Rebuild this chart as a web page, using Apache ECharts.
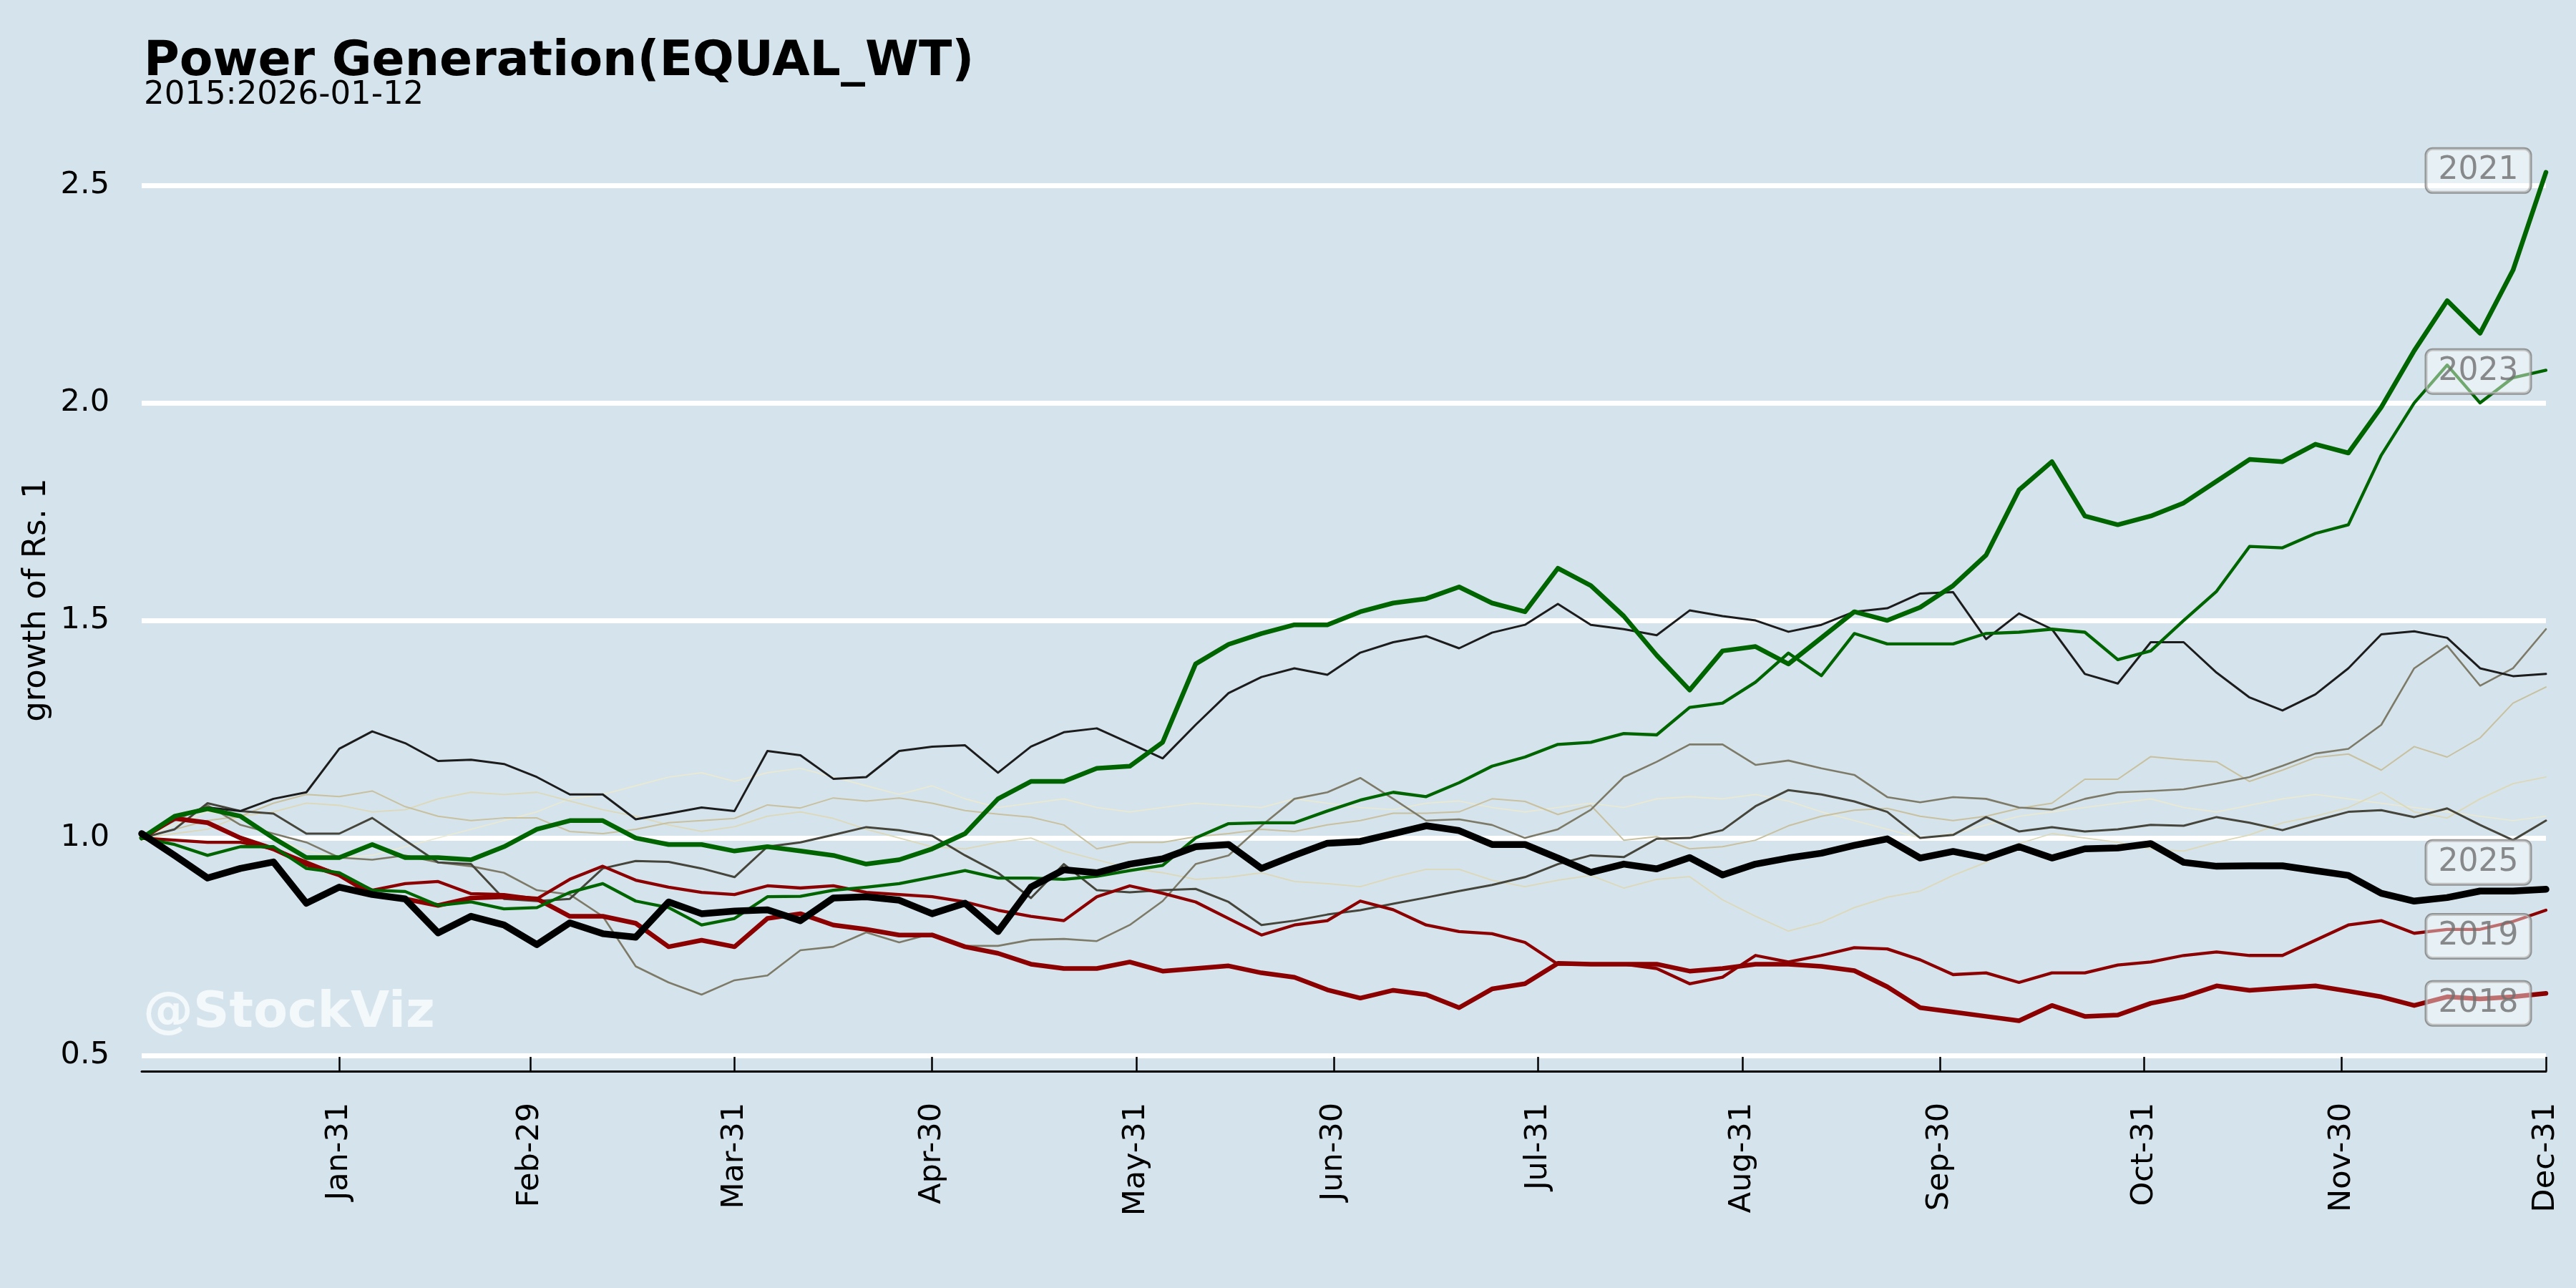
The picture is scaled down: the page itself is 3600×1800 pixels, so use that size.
<!DOCTYPE html>
<html><head><meta charset="utf-8">
<script src="https://cdn.jsdelivr.net/npm/echarts@6/dist/echarts.min.js"></script>
<style>html,body{margin:0;padding:0;background:#d5e4ec}#c{width:3600px;height:1800px}</style>
</head><body><div id="c"></div>
<script>
// day-of-year sample points
const days = [1,6,11,16,21,26,31,36,41,46,51,56,61,66,71,76,81,86,91,96,101,106,111,116,121,126,131,136,141,146,151,156,161,166,171,176,181,186,191,196,201,206,211,216,221,226,231,236,241,246,251,256,261,266,271,276,281,286,291,296,301,306,311,316,321,326,331,336,341,346,351,356,361,366];
const monthEndDays = [31,60,91,121,152,182,213,244,274,305,335,366];
const monthLabels = ['Jan-31','Feb-29','Mar-31','Apr-30','May-31','Jun-30','Jul-31','Aug-31','Sep-30','Oct-31','Nov-30','Dec-31'];
const yTicks = [0.5,1.0,1.5,2.0,2.5];

const y2021 = [1.00,1.05,1.067,1.05,1.00,0.955,0.955,0.985,0.955,0.955, 0.95,0.98,1.02,1.04,1.04,1.00,0.985,0.985,0.97,0.98, 0.97,0.96,0.94,0.95,0.975,1.01,1.09,1.13,1.13,1.16, 1.165,1.22,1.40,1.445,1.47,1.49,1.49,1.52,1.54,1.55, 1.577,1.54,1.52,1.62,1.58,1.51,1.42,1.34,1.43,1.44, 1.40,1.46,1.52,1.50,1.53,1.58,1.65,1.80,1.865,1.74, 1.72,1.74,1.77,1.82,1.87,1.865,1.905,1.885,1.99,2.12, 2.235,2.16,2.305,2.53];
const y2023 = [1.00,0.985,0.96,0.98,0.98,0.93,0.92,0.88,0.877,0.845, 0.853,0.837,0.84,0.875,0.895,0.855,0.84,0.80,0.815,0.865, 0.866,0.88,0.887,0.895,0.91,0.925,0.908,0.908,0.905,0.912, 0.925,0.937,1.0,1.033,1.035,1.035,1.062,1.087,1.105,1.095, 1.127,1.165,1.186,1.215,1.22,1.24,1.237,1.30,1.31,1.358, 1.425,1.373,1.47,1.446,1.446,1.446,1.47,1.473,1.48,1.473, 1.41,1.43,1.50,1.567,1.67,1.667,1.70,1.72,1.88,2.0, 2.087,2.0,2.058,2.075];
const y2025 = [1.01,0.96,0.908,0.93,0.945,0.85,0.887,0.87,0.86,0.782, 0.82,0.80,0.755,0.805,0.78,0.772,0.853,0.826,0.832,0.835, 0.81,0.862,0.865,0.857,0.826,0.85,0.785,0.887,0.927,0.92, 0.94,0.952,0.98,0.985,0.93,0.96,0.988,0.992,1.01,1.028, 1.017,0.985,0.985,0.954,0.921,0.94,0.929,0.955,0.915,0.94, 0.954,0.965,0.983,0.998,0.954,0.969,0.954,0.98,0.954,0.975, 0.977,0.987,0.944,0.935,0.936,0.936,0.925,0.914,0.873,0.855, 0.863,0.878,0.878,0.882];
const y2018 = [1.0,1.045,1.035,1.0,0.975,0.94,0.915,0.87,0.86,0.845, 0.862,0.865,0.86,0.82,0.82,0.804,0.75,0.765,0.75,0.815, 0.826,0.80,0.79,0.777,0.777,0.75,0.735,0.71,0.70,0.70, 0.715,0.694,0.70,0.706,0.69,0.68,0.651,0.632,0.65,0.64, 0.61,0.653,0.665,0.712,0.71,0.71,0.71,0.694,0.70,0.71, 0.71,0.705,0.695,0.658,0.61,0.60,0.59,0.58,0.615,0.59, 0.593,0.62,0.635,0.66,0.65,0.655,0.66,0.648,0.635,0.615, 0.635,0.63,0.635,0.643];
const y2019 = [1.0,0.995,0.99,0.99,0.975,0.945,0.915,0.88,0.895,0.90, 0.872,0.87,0.86,0.905,0.935,0.903,0.887,0.875,0.87,0.89, 0.885,0.89,0.875,0.87,0.865,0.853,0.834,0.82,0.81,0.865, 0.89,0.873,0.853,0.815,0.777,0.80,0.81,0.855,0.835,0.80, 0.785,0.78,0.76,0.71,0.71,0.71,0.70,0.665,0.68,0.73, 0.715,0.73,0.748,0.745,0.72,0.686,0.69,0.668,0.69,0.69, 0.708,0.715,0.73,0.738,0.73,0.73,0.765,0.80,0.81,0.781, 0.79,0.79,0.808,0.834];
const y2024 = [1.0,1.05,1.07,1.062,1.09,1.105,1.205,1.245,1.218,1.177, 1.18,1.17,1.14,1.10,1.10,1.043,1.056,1.07,1.062,1.20, 1.19,1.136,1.14,1.20,1.21,1.213,1.15,1.21,1.243,1.252, 1.218,1.183,1.26,1.333,1.37,1.39,1.375,1.426,1.45,1.464, 1.436,1.472,1.49,1.538,1.49,1.48,1.466,1.523,1.51,1.50, 1.474,1.49,1.52,1.528,1.562,1.565,1.457,1.516,1.48,1.377, 1.355,1.45,1.45,1.38,1.323,1.293,1.33,1.39,1.468,1.475, 1.46,1.39,1.372,1.377];
const y2022 = [1.0,1.02,1.08,1.062,1.056,1.01,1.01,1.046,0.995,0.944, 0.94,0.86,0.855,0.86,0.93,0.947,0.945,0.93,0.91,0.98, 0.99,1.007,1.025,1.018,1.005,0.96,0.92,0.862,0.94,0.88, 0.875,0.88,0.883,0.853,0.80,0.81,0.824,0.834,0.849,0.863, 0.878,0.892,0.91,0.94,0.96,0.956,0.998,1.0,1.018,1.073, 1.11,1.10,1.084,1.06,1.0,1.007,1.048,1.015,1.025,1.015, 1.02,1.03,1.028,1.048,1.035,1.018,1.04,1.06,1.064,1.048, 1.068,1.03,0.995,1.04];
const y2020 = [1.0,1.04,1.075,1.03,1.01,0.99,0.955,0.95,0.96,0.944, 0.935,0.92,0.88,0.87,0.82,0.705,0.668,0.64,0.673,0.684, 0.742,0.75,0.783,0.76,0.78,0.752,0.752,0.766,0.768,0.763, 0.80,0.855,0.94,0.96,1.028,1.09,1.105,1.138,1.09,1.04, 1.043,1.03,1.0,1.02,1.065,1.14,1.175,1.215,1.215,1.168, 1.178,1.16,1.145,1.094,1.082,1.094,1.09,1.07,1.065,1.09, 1.105,1.108,1.112,1.125,1.14,1.166,1.194,1.205,1.26,1.39, 1.442,1.35,1.39,1.48];
const y2017 = [1.0,1.02,1.04,1.05,1.08,1.10,1.095,1.108,1.072,1.05, 1.04,1.046,1.046,1.015,1.01,1.02,1.035,1.04,1.045,1.076, 1.069,1.092,1.085,1.092,1.08,1.063,1.055,1.048,1.03,0.975, 0.99,0.99,1.003,1.01,1.02,1.015,1.03,1.04,1.057,1.057, 1.06,1.09,1.084,1.054,1.075,0.995,1.003,0.975,0.98,0.995, 1.028,1.05,1.064,1.068,1.05,1.04,1.05,1.068,1.08,1.135, 1.135,1.187,1.18,1.175,1.13,1.156,1.185,1.193,1.156,1.21, 1.186,1.23,1.31,1.347];
const y2016 = [1.0,1.01,1.02,1.05,1.06,1.08,1.075,1.06,1.065,1.09, 1.105,1.10,1.105,1.085,1.065,1.05,1.03,1.015,1.026,1.05, 1.06,1.045,1.02,1.0,0.98,0.975,0.99,1.0,0.97,0.95, 0.93,0.92,0.905,0.91,0.92,0.90,0.895,0.888,0.91,0.928, 0.928,0.903,0.888,0.903,0.914,0.885,0.905,0.911,0.858,0.82, 0.786,0.806,0.84,0.864,0.878,0.914,0.944,0.987,1.01,1.0, 0.99,0.975,0.97,0.99,1.007,1.035,1.05,1.07,1.105,1.06, 1.046,1.09,1.125,1.14];
const y2015 = [1.0,1.03,1.06,1.05,1.0,0.97,0.955,0.96,0.98,1.0, 1.02,1.04,1.06,1.09,1.1,1.12,1.14,1.15,1.13,1.15, 1.16,1.14,1.12,1.1,1.12,1.09,1.07,1.08,1.09,1.07, 1.06,1.07,1.08,1.075,1.07,1.09,1.08,1.07,1.065,1.08, 1.085,1.07,1.06,1.07,1.08,1.07,1.09,1.095,1.09,1.1, 1.085,1.06,1.04,1.02,1.0,1.01,1.03,1.05,1.06,1.07, 1.08,1.09,1.07,1.06,1.075,1.09,1.1,1.09,1.08,1.07, 1.06,1.05,1.04,1.05];

const labelYears = ['2021','2023','2025','2019','2018'];
const labelValues = [2.534, 2.072, 0.944, 0.774, 0.62];

const FONT = 'DejaVu Sans';
function mk(name, vals, color, width) {
  return {type:'line', name, data: days.map((d,i)=>[d, vals[i]]), showSymbol:false, symbol:'none',
    lineStyle:{color, width, join:'round', cap:'round'}, silent:true, z:3};
}
const series = [
  mk('2015', y2015, '#ebe9d0', 1.6),
  mk('2016', y2016, '#dcd8b8', 1.8),
  mk('2017', y2017, '#c8c09e', 2),
  mk('2020', y2020, '#7d7a68', 2.6),
  mk('2022', y2022, '#46453b', 3),
  mk('2024', y2024, '#1c1c1c', 3),
  mk('2018', y2018, '#8b0000', 6.5),
  mk('2019', y2019, '#8b0000', 4.3),
  mk('2023', y2023, '#006400', 4.3),
  mk('2021', y2021, '#006400', 6.5),
  mk('2025', y2025, '#000000', 9.5),
  {type:'scatter', data: labelYears.map((y,i)=>[366, labelValues[i], y]), symbolSize:1,
   itemStyle:{color:'rgba(0,0,0,0)'}, z:10, silent:true,
   label:{show:true, position:'left', distance:21, formatter:p=>p.data[2], color:'#6e6e6e',
     fontSize:44, fontFamily:FONT, backgroundColor:'rgba(255,255,255,0.55)', borderColor:'#808080',
     borderWidth:2, borderRadius:9, padding:[9,17,8,17]}}
];

const chart = echarts.init(document.getElementById('c'), null, {renderer:'canvas'});
chart.setOption({
  animation:false,
  backgroundColor:'#d5e4ec',
  grid:{left:198, right:42, top:180, bottom:303, containLabel:false},
  xAxis:{type:'value', min:1, max:366,
    axisLine:{show:true, lineStyle:{color:'#000', width:3}},
    axisTick:{show:true, inside:true, length:20, lineStyle:{color:'#000', width:2.5}, customValues:monthEndDays},
    axisLabel:{show:true, customValues:monthEndDays, rotate:90, margin:44, fontSize:43, fontFamily:FONT, color:'#000',
      showMinLabel:true, showMaxLabel:true, hideOverlap:false,
      formatter:v=>{const i=monthEndDays.indexOf(Math.round(v)); return i>=0?monthLabels[i]:'';}},
    splitLine:{show:false}},
  yAxis:{type:'value', min:0.464, max:2.63,
    name:'growth of Rs. 1', nameLocation:'middle', nameGap:108, nameRotate:90,
    nameTextStyle:{fontSize:45, fontFamily:FONT, color:'#000'},
    axisLine:{show:false}, axisTick:{show:false, customValues:yTicks},
    axisLabel:{show:true, customValues:yTicks, margin:45, fontSize:43, fontFamily:FONT, color:'#000',
      formatter:v=>Number(v).toFixed(1)},
    splitLine:{show:true, lineStyle:{color:'#ffffff', width:7}}},
  graphic:[
    {type:'text', left:201, top:53, z:1, style:{text:'Power Generation(EQUAL_WT)', fontSize:68, fontWeight:'bold', fontFamily:FONT, fill:'#000'}},
    {type:'text', left:201, top:111, z:1, style:{text:'2015:2026-01-12', fontSize:45, fontFamily:FONT, fill:'#000'}},
    {type:'text', left:200, top:1382, z:0, style:{text:'@StockViz', fontSize:70, fontWeight:'bold', fontFamily:FONT, fill:'rgba(255,255,255,0.72)'}}
  ],
  series
});
</script></body></html>
